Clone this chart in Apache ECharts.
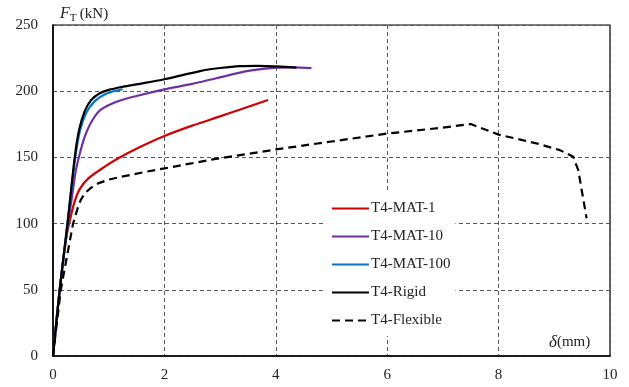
<!DOCTYPE html>
<html><head><meta charset="utf-8">
<script src="https://cdn.jsdelivr.net/npm/echarts@6/dist/echarts.min.js"></script>
<style>html,body{margin:0;padding:0;background:#fff}#c{width:629px;height:387px}</style>
</head><body><div id="c"></div>
<script>
const seriesNames = ['T4-MAT-1','T4-MAT-10','T4-MAT-100','T4-Rigid','T4-Flexible'];
const mat1 = [[0,0],[0.12,50],[0.24,90],[0.3,102],[0.39,117],[0.48,126],[0.63,134],[0.93,143],[1.15,148.8],[1.56,157.8],[2.0,166.2],[2.5,174],[3.0,181],[3.35,186],[3.86,193.4]];
const mat10 = [[0,0],[0.12,50],[0.27,100],[0.34,120],[0.41,140],[0.5,156],[0.6,169],[0.72,179],[0.86,186],[1.14,192],[1.5,196.4],[2.0,201.4],[2.5,205.5],[2.93,209.8],[3.53,215.5],[4.01,217.8],[4.3,218],[4.64,217.5]];
const mat100 = [[0,0],[0.12,50],[0.26,100],[0.4,150],[0.49,171],[0.6,184],[0.75,192.5],[0.9,197],[1.05,199.5],[1.25,201.5]];
const rigid = [[0,0],[0.12,50],[0.26,100],[0.39,150],[0.47,171],[0.57,185],[0.69,193.5],[0.84,198.5],[1.0,201],[1.26,203.4],[1.5,205.2],[2.0,209],[2.64,215.2],[3.0,217.5],[3.35,219],[3.7,219.2],[4.01,218.7],[4.37,217.8]];
const flexible = [[0,0],[0.14,50],[0.36,100],[0.41,107],[0.45,112.7],[0.5,118],[0.57,122.8],[0.68,127],[0.81,130.4],[1.0,133.2],[1.23,135.4],[1.65,139],[2.0,141.7],[2.87,148.5],[4.0,156],[5.0,162],[6.0,168],[7.0,172.5],[7.5,175.2],[8.0,167.2],[8.68,160.6],[9.1,155.5],[9.34,150.5],[9.43,140.4],[9.58,104]];
const xTicks = [0,2,4,6,8,10];
const yTicks = [0,50,100,150,200,250];

const FONT = '"Liberation Serif","Times New Roman",serif';
const chart = echarts.init(document.getElementById('c'), null, {renderer:'canvas'});
const mk = (name, data, color, type, smooth) => ({
  name, type:'line', data, symbol:'none', smooth: smooth, z: 3,
  lineStyle:{color, width:2.2, type: type||'solid'}, itemStyle:{color},
  emphasis:{disabled:true}
});
chart.setOption({
  animation:false,
  grid:{left:53,right:19,top:25,bottom:31,show:true,borderColor:'#000',borderWidth:1.2,backgroundColor:'transparent'},
  xAxis:{type:'value',min:xTicks[0],max:xTicks[xTicks.length-1],interval:2,
    axisLine:{show:true,lineStyle:{color:'#000',width:1.5}},axisTick:{show:false},
    axisLabel:{color:'#222',fontFamily:FONT,fontSize:15,margin:12},
    splitLine:{show:true,lineStyle:{color:'#555',type:[4,3],width:1}}},
  yAxis:{type:'value',min:yTicks[0],max:yTicks[yTicks.length-1],interval:50,
    axisLine:{show:true,lineStyle:{color:'#000',width:1.5}},axisTick:{show:false},
    axisLabel:{color:'#222',fontFamily:FONT,fontSize:15,margin:15},
    splitLine:{show:true,lineStyle:{color:'#555',type:[4,3],width:1}}},
  legend:{orient:'vertical',left:325,top:193,itemWidth:37,itemHeight:14,itemGap:13,
    padding:[8,5,8,6],backgroundColor:'#fff',
    itemStyle:{opacity:0},
    textStyle:{fontFamily:FONT,fontSize:15,color:'#222',padding:[0,0,0,-3]},
    data:seriesNames},
  graphic:[
    {type:'text',left:60,top:6,style:{
      text:'{f|F}{s|T} {n|(kN)}',
      rich:{f:{fontFamily:FONT,fontStyle:'italic',fontSize:16,fill:'#222'},
            s:{fontFamily:FONT,fontSize:11,fill:'#222',verticalAlign:'bottom',padding:[8,0,0,0]},
            n:{fontFamily:FONT,fontSize:15,fill:'#222'}}}},
    {type:'text',left:549,top:334,z:10,style:{
      text:'{d|δ}{n|(mm)}',
      rich:{d:{fontFamily:FONT,fontStyle:'italic',fontSize:17,fill:'#222'},
            n:{fontFamily:FONT,fontSize:15,fill:'#222'}}}}
  ],
  series:[
    mk(seriesNames[0],mat1,'#d00000',null,0.3),
    mk(seriesNames[1],mat10,'#7030a0',null,0.3),
    mk(seriesNames[2],mat100,'#0a74c4',null,0.3),
    mk(seriesNames[3],rigid,'#000000',null,0.3),
    mk(seriesNames[4],flexible,'#000000',[8,5],false)
  ]
});
</script></body></html>
